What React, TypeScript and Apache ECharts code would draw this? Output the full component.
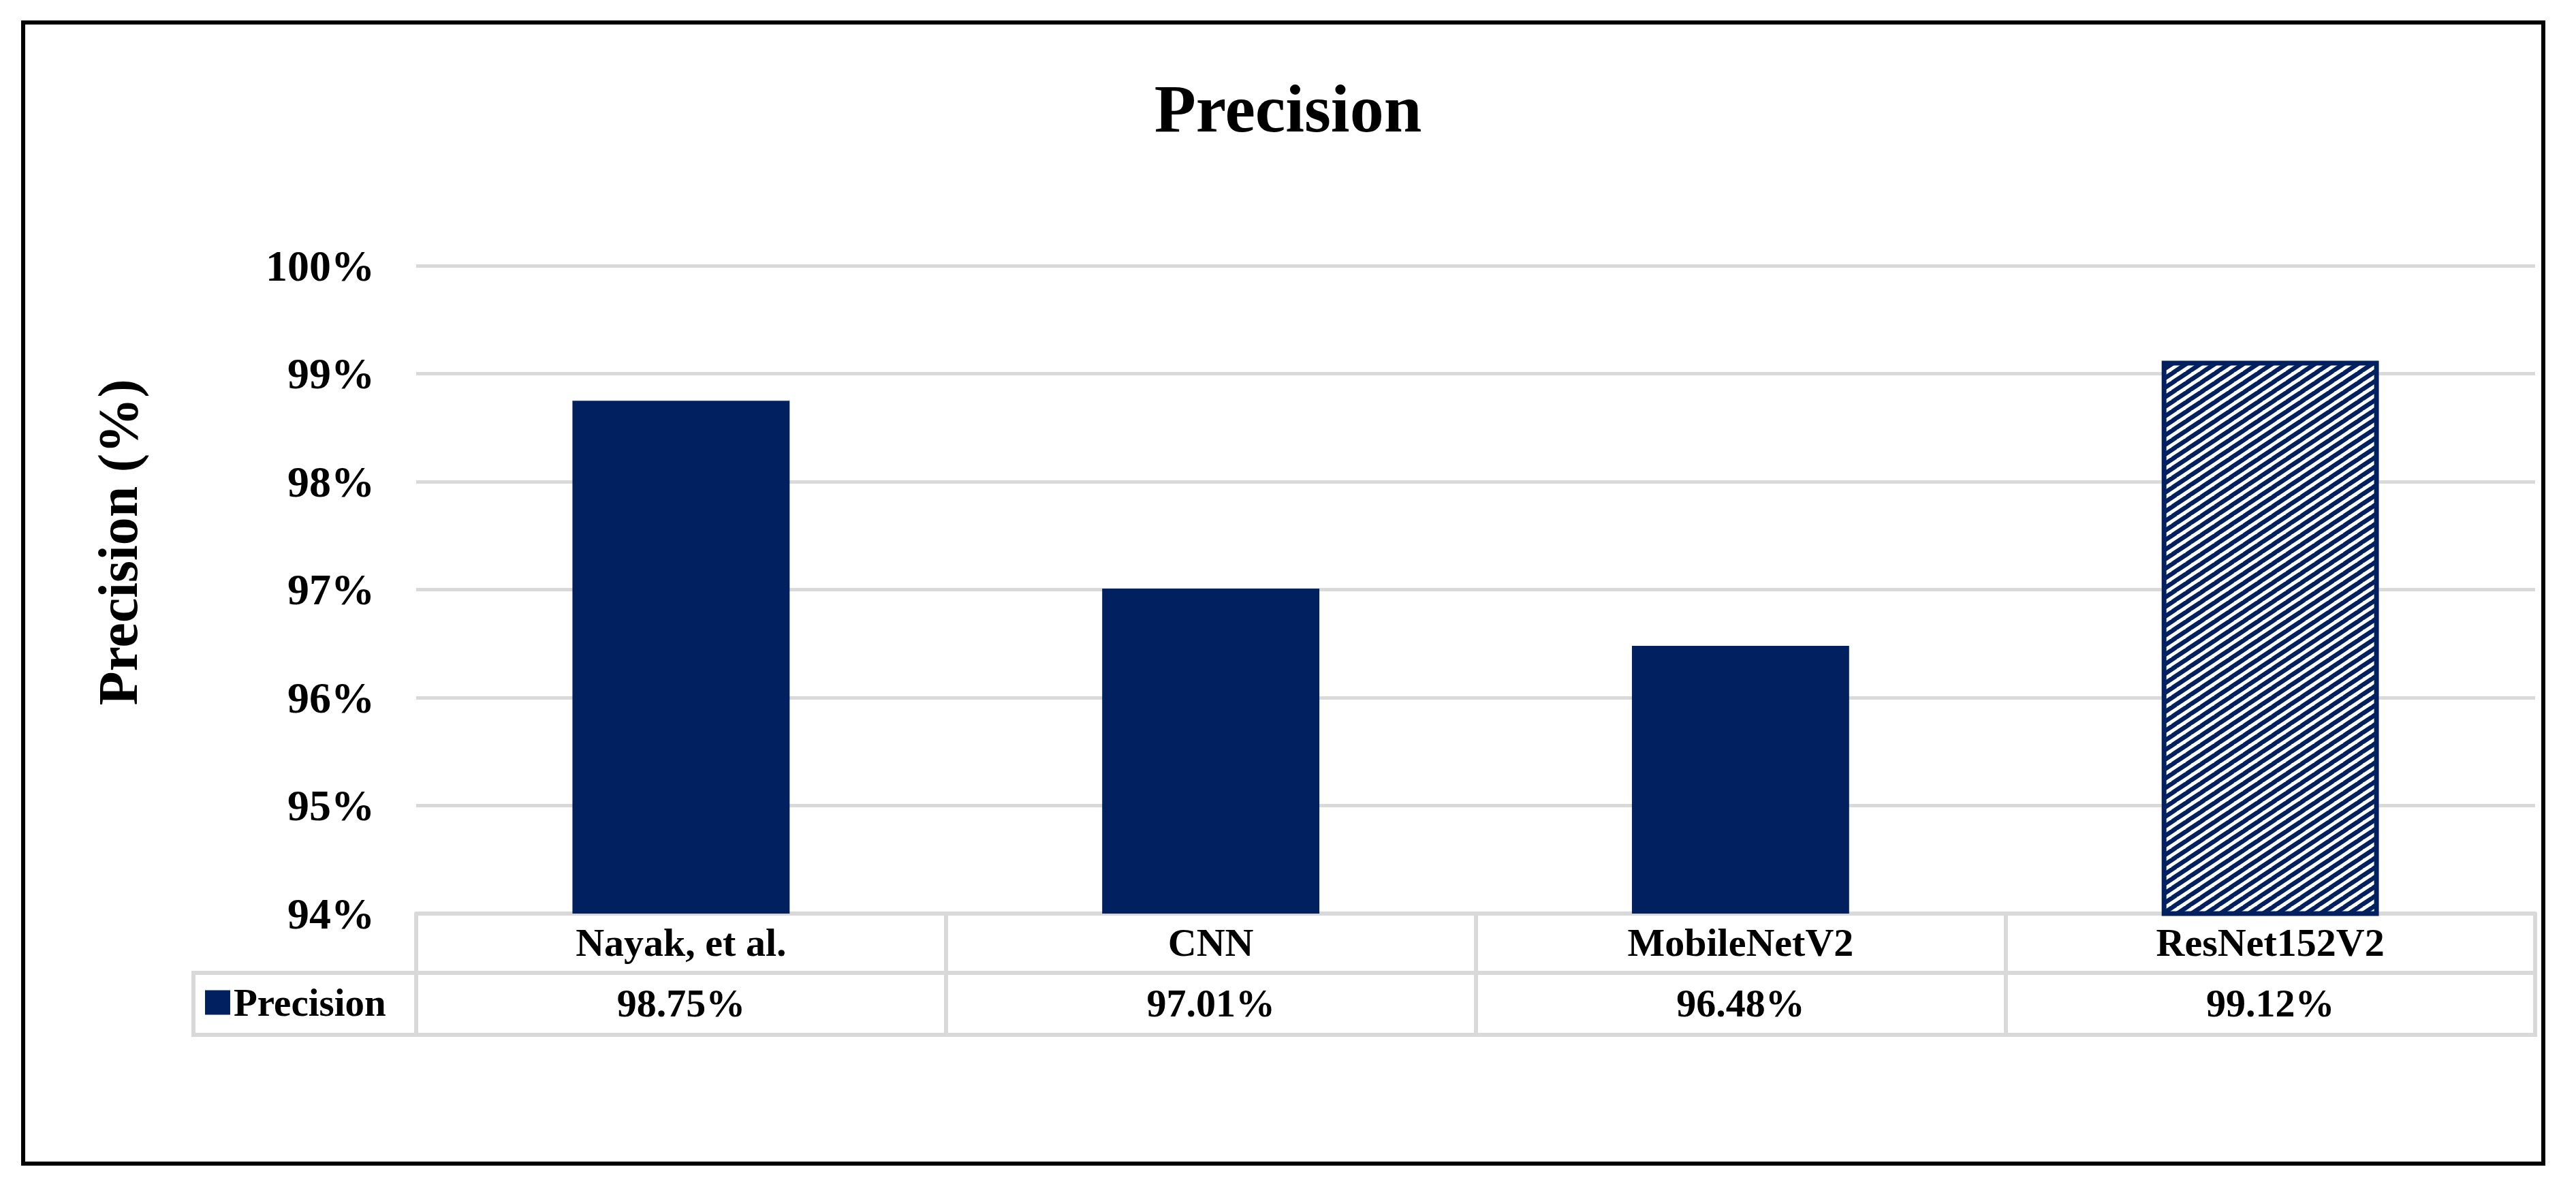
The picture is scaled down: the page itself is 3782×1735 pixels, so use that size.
import React, { useEffect, useRef } from 'react';
import * as echarts from 'echarts';

// ---------- data ----------
const categories = ['Nayak, et al.', 'CNN', 'MobileNetV2', 'ResNet152V2'];
const precisionValues = [98.75, 97.01, 96.48, 99.12];
const seriesName = 'Precision';
const yMin = 94;
const yMax = 100;
const yStep = 1;
const hatchedIndex = 3;
const chartTitle = 'Precision';
const yAxisTitle = 'Precision (%)';

// ---------- layout / style ----------
const W = 3782;
const H = 1735;
const GRID_LEFT = 611;
const GRID_RIGHT_X = 3722;
const GRID_TOP = 390;
const GRID_BOTTOM_Y = 1341;
const ROW_H = 87;
const TABLE_BOTTOM = 1519;
const TABLE_LEFT = 284;
const NAVY = '#002060';
const GRIDC = '#d9d9d9';
const FONT = "'Times New Roman', 'Liberation Serif', Times, serif";
const TILE_W = 21;
const TILE_H = 14;

function makeHatch(): HTMLCanvasElement {
  const c = document.createElement('canvas');
  c.width = TILE_W;
  c.height = TILE_H;
  const ctx = c.getContext('2d')!;
  ctx.fillStyle = '#ffffff';
  ctx.fillRect(0, 0, TILE_W, TILE_H);
  ctx.strokeStyle = NAVY;
  ctx.lineWidth = 6.5;
  for (let k = -1; k <= 1; k++) {
    ctx.beginPath();
    ctx.moveTo(k * TILE_W - 3, TILE_H + 2);
    ctx.lineTo(k * TILE_W + TILE_W + 3, -2);
    ctx.stroke();
  }
  return c;
}

export default function App() {
  const ref = useRef<HTMLDivElement>(null);

  useEffect(() => {
    if (!ref.current) return;
    const chart = echarts.init(ref.current, undefined, { renderer: 'svg', width: W, height: H });
    const hatch = makeHatch();

    const seriesData = precisionValues.map((v, i) =>
      i === hatchedIndex
        ? {
            value: v,
            itemStyle: {
              color: { image: hatch, repeat: 'repeat', imageWidth: TILE_W, imageHeight: TILE_H },
              borderColor: NAVY,
              borderWidth: 7,
            },
          }
        : v
    );

    const textBase = { fontFamily: FONT, fontWeight: 'bold' as const, color: '#000' };

    const option: any = {
      animation: false,
      backgroundColor: '#ffffff',
      title: {
        text: chartTitle,
        left: 'center',
        top: 104,
        textStyle: { ...textBase, fontSize: 100 },
      },
      legend: {
        data: [seriesName],
        left: 301,
        top: 1443,
        padding: 0,
        itemWidth: 37,
        itemHeight: 36,
        icon: 'rect',
        selectedMode: false,
        textStyle: { ...textBase, fontSize: 57 },
      },
      grid: {
        left: GRID_LEFT,
        right: W - GRID_RIGHT_X,
        top: GRID_TOP,
        bottom: H - GRID_BOTTOM_Y,
        containLabel: false,
        outerBoundsMode: 'none',
      },
      xAxis: [
        {
          type: 'category',
          data: categories,
          position: 'bottom',
          axisLine: { show: true, lineStyle: { color: GRIDC, width: 6 } },
          axisTick: {
            show: true,
            alignWithLabel: false,
            interval: 0,
            length: TABLE_BOTTOM - GRID_BOTTOM_Y + 2,
            lineStyle: { color: GRIDC, width: 6 },
          },
          axisLabel: {
            ...textBase,
            fontSize: 58,
            margin: 42,
            verticalAlign: 'middle',
            interval: 0,
          },
          splitLine: { show: false },
        },
        {
          type: 'category',
          data: categories,
          position: 'bottom',
          offset: ROW_H,
          axisLine: { show: true, lineStyle: { color: GRIDC, width: 6 } },
          axisTick: { show: false },
          axisLabel: {
            ...textBase,
            fontSize: 58,
            margin: 44,
            verticalAlign: 'middle',
            interval: 0,
            formatter: (_v: string, i: number) => precisionValues[i].toFixed(2) + '%',
          },
          splitLine: { show: false },
        },
      ],
      yAxis: {
        type: 'value',
        min: yMin,
        max: yMax,
        interval: yStep,
        axisLine: { show: false },
        axisTick: { show: false },
        axisLabel: {
          ...textBase,
          fontSize: 64,
          margin: 61,
          formatter: '{value}%',
        },
        splitLine: { show: true, lineStyle: { color: GRIDC, width: 5 } },
      },
      series: [
        {
          name: seriesName,
          type: 'bar',
          xAxisIndex: 0,
          barWidth: '41%',
          itemStyle: { color: NAVY },
          data: seriesData,
        },
      ],
      graphic: [
        {
          type: 'rect',
          silent: true,
          shape: { x: 34, y: 33, width: 3700, height: 1675 },
          style: { fill: 'none', stroke: '#000', lineWidth: 6 },
        },
        {
          type: 'line',
          silent: true,
          shape: { x1: TABLE_LEFT - 3, y1: GRID_BOTTOM_Y + ROW_H, x2: GRID_LEFT, y2: GRID_BOTTOM_Y + ROW_H },
          style: { stroke: GRIDC, lineWidth: 6 },
        },
        {
          type: 'line',
          silent: true,
          shape: { x1: TABLE_LEFT - 3, y1: TABLE_BOTTOM, x2: GRID_RIGHT_X + 3, y2: TABLE_BOTTOM },
          style: { stroke: GRIDC, lineWidth: 6 },
        },
        {
          type: 'line',
          silent: true,
          shape: { x1: TABLE_LEFT, y1: GRID_BOTTOM_Y + ROW_H - 3, x2: TABLE_LEFT, y2: TABLE_BOTTOM + 3 },
          style: { stroke: GRIDC, lineWidth: 6 },
        },
        {
          type: 'text',
          x: 173,
          y: 796,
          rotation: Math.PI / 2,
          style: {
            text: yAxisTitle,
            fontFamily: FONT,
            fontWeight: 'bold',
            fontSize: 82,
            fill: '#000',
            align: 'center',
            verticalAlign: 'middle',
          },
        },
      ],
    };

    chart.setOption(option);
    return () => {
      chart.dispose();
    };
  }, []);

  return (
    <div
      ref={ref}
      style={{ position: 'fixed', left: 0, top: 0, width: W, height: H, background: '#fff' }}
    />
  );
}
